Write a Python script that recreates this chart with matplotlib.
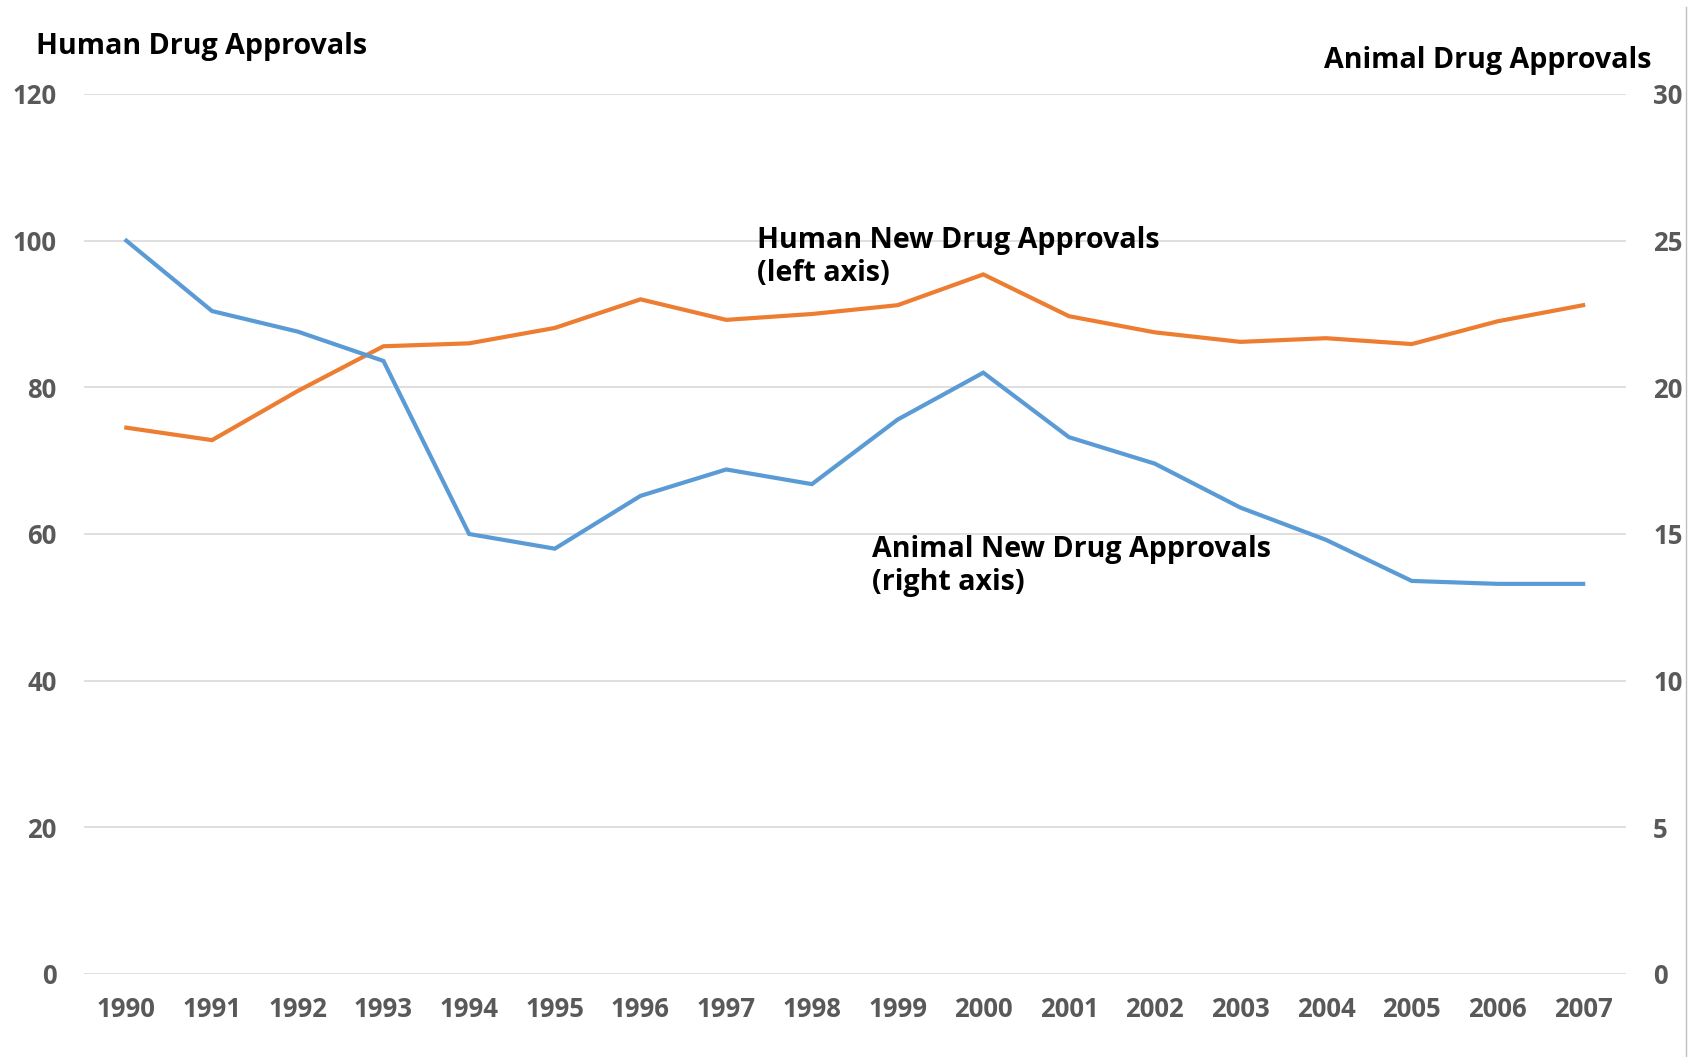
import matplotlib
matplotlib.use("Agg")
import matplotlib.pyplot as plt
from matplotlib.lines import Line2D

years = [str(y) for y in range(1990, 2008)]
human_approvals = [74.5, 72.8, 79.5, 85.6, 86.0, 88.1, 92.0, 89.2, 90.0, 91.2,
                   95.4, 89.7, 87.5, 86.2, 86.7, 85.9, 89.0, 91.2]
animal_approvals = [25.0, 22.6, 21.9, 20.9, 15.0, 14.5, 16.3, 17.2, 16.7, 18.9,
                    20.5, 18.3, 17.4, 15.9, 14.8, 13.4, 13.3, 13.3]
left_ticks = [0, 20, 40, 60, 80, 100, 120]
right_ticks = [0, 5, 10, 15, 20, 25, 30]

plt.rcParams['font.family'] = ['Open Sans', 'DejaVu Sans']

W, H = 1694, 1057
fig = plt.figure(figsize=(W / 100, H / 100), dpi=100)
ax = fig.add_axes([83.5 / W, 1 - 974 / H, (1626 - 83.5) / W, (974 - 94) / H])
ax2 = ax.twinx()

x = list(range(len(years)))
orange = '#ED7D31'
blue = '#5B9BD5'
grid_c = '#D9D9D9'
tick_c = '#595959'

ax.set_ylim(0, 120)
ax.set_xlim(-0.5, len(years) - 0.5)
ax2.set_ylim(0, 30)
ax.set_yticks(left_ticks)
ax2.set_yticks(right_ticks)
ax.set_xticks(x)
ax.set_xticklabels(years)

for a in (ax, ax2):
    for s in a.spines.values():
        s.set_visible(False)
    a.tick_params(length=0, colors=tick_c, labelsize=18.5)
ax.tick_params(axis='y', pad=19.5)
ax2.tick_params(axis='y', pad=19.5)
ax.tick_params(axis='x', pad=16)
for lab in ax.get_yticklabels() + ax.get_xticklabels() + ax2.get_yticklabels():
    lab.set_fontweight('bold')

ax.yaxis.grid(True, color=grid_c, linewidth=1.2)
ax.set_axisbelow(True)

ax.plot(x, human_approvals, color=orange, linewidth=3, solid_joinstyle='miter', zorder=3)
ax2.plot(x, animal_approvals, color=blue, linewidth=3, solid_joinstyle='miter', zorder=3)

# axis titles
fig.text(36 / W, 1 - 46.5 / H, 'Human Drug Approvals', fontsize=20.6, fontweight='bold',
         color='black', ha='left', va='center')
fig.text(1651 / W, 1 - 60.5 / H, 'Animal Drug Approvals', fontsize=20.6, fontweight='bold',
         color='black', ha='right', va='center')

# annotations
fig.text(757 / W, 1 - 257 / H, 'Human New Drug Approvals\n(left axis)', fontsize=20.6,
         fontweight='bold', color='black', ha='left', va='center', linespacing=1.2)
fig.text(872 / W, 1 - 566 / H, 'Animal New Drug Approvals\n(right axis)', fontsize=20.6,
         fontweight='bold', color='black', ha='left', va='center', linespacing=1.2)

# right border line
fig.add_artist(Line2D([1686 / W, 1686 / W], [0, 1 - 7 / H], transform=fig.transFigure,
                      color='#BFBFBF', linewidth=1))

fig.savefig('out.png', dpi=100, facecolor='white')
